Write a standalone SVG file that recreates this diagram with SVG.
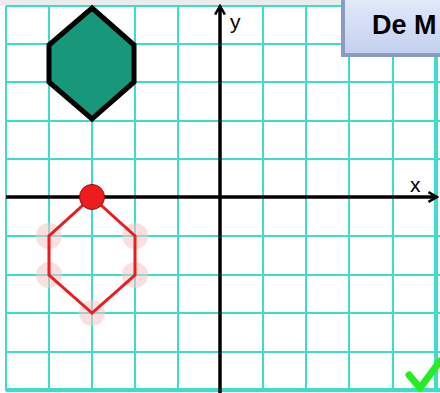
<svg xmlns="http://www.w3.org/2000/svg" width="440" height="393" viewBox="0 0 440 393">
<defs>
<style>
.grid line{stroke:#3ddccb;stroke-width:2}
.axis{stroke:#000;stroke-width:3.5;fill:none}
.lbl{font-family:"Liberation Sans",Arial,sans-serif;fill:#000}
.halo{fill:#f3c6c6;opacity:0.55}
</style>
<marker id="arr" viewBox="0 0 10 10" refX="8" refY="5" markerWidth="3.5" markerHeight="3.5" orient="auto" markerUnits="strokeWidth">
<path d="M1,1 L8,5 L1,9" fill="none" stroke="#000" stroke-width="2"/>
</marker>
<linearGradient id="boxg" x1="0" y1="0" x2="0" y2="1">
<stop offset="0" stop-color="#e4ebfa"/>
<stop offset="1" stop-color="#c3d0ee"/>
</linearGradient>
</defs>
<rect width="440" height="393" fill="#fff"/>
<rect width="440" height="6" fill="#ececec"/>
<g class="grid">
<line x1="6" y1="6" x2="6" y2="391"/>
<line x1="49" y1="6" x2="49" y2="391"/>
<line x1="92" y1="6" x2="92" y2="391"/>
<line x1="135" y1="6" x2="135" y2="391"/>
<line x1="178" y1="6" x2="178" y2="391"/>
<line x1="263" y1="6" x2="263" y2="391"/>
<line x1="306" y1="6" x2="306" y2="391"/>
<line x1="349" y1="6" x2="349" y2="391"/>
<line x1="393" y1="6" x2="393" y2="391"/>
<line x1="436" y1="6" x2="436" y2="391" style="stroke-width:4"/>
<line x1="6" y1="6" x2="440" y2="6"/>
<line x1="6" y1="44" x2="440" y2="44"/>
<line x1="6" y1="82" x2="440" y2="82"/>
<line x1="6" y1="121" x2="440" y2="121"/>
<line x1="6" y1="159" x2="440" y2="159"/>
<line x1="6" y1="236" x2="440" y2="236"/>
<line x1="6" y1="275" x2="440" y2="275"/>
<line x1="6" y1="313" x2="440" y2="313"/>
<line x1="6" y1="352" x2="440" y2="352"/>
<line x1="6" y1="390" x2="440" y2="390" style="stroke-width:4"/>
</g>
<g id="axes">
<line class="axis" x1="220" y1="393" x2="220" y2="6" marker-end="url(#arr)"/>
<line class="axis" x1="6" y1="197" x2="437" y2="197" marker-end="url(#arr)"/>
<text class="lbl" x="230" y="29" font-size="21">y</text>
<text class="lbl" x="410" y="192" font-size="21">x</text>
</g>
<g id="green-hexagon">
<polygon points="92,8 134,45 134,82 92,119 49,82 49,45" fill="#17987a" stroke="#000" stroke-width="5" stroke-linejoin="miter"/>
</g>
<g id="red-hexagon">
<circle class="halo" cx="49" cy="236" r="13"/>
<circle class="halo" cx="49" cy="275" r="13"/>
<circle class="halo" cx="92" cy="313" r="13"/>
<circle class="halo" cx="135" cy="275" r="13"/>
<circle class="halo" cx="135" cy="236" r="13"/>
<polygon points="92,197 135,236 135,275 92,313 49,275 49,236" fill="none" stroke="#ee1c1c" stroke-width="3"/>
<circle cx="92" cy="197" r="12.5" fill="#ee1c1c" stroke="#8a1010" stroke-width="1"/>
</g>
<g id="title-box">
<rect x="341" y="-6" width="106" height="63" fill="#8a9cc4"/>
<rect x="345" y="-4" width="100" height="57" fill="url(#boxg)"/>
<text class="lbl" x="372" y="34" font-size="27" font-weight="bold">De M</text>
</g>
<g id="check">
<path d="M409,375 L420,388 L440,361" fill="none" stroke="#22ee22" stroke-width="7" stroke-linecap="round" stroke-linejoin="round"/>
</g>
</svg>
